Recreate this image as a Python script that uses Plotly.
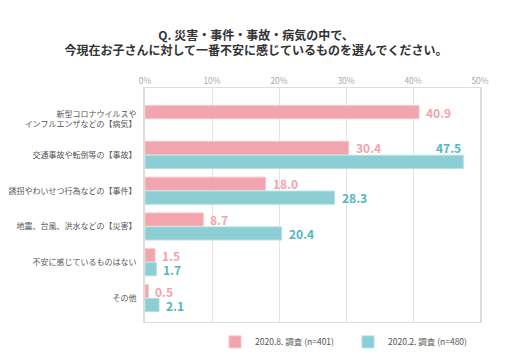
import plotly.graph_objects as go

categories = [
    "新型コロナウイルスや<br>インフルエンザなどの【病気】",
    "交通事故や転倒等の【事故】",
    "誘拐やわいせつ行為などの【事件】",
    "地震、台風、洪水などの【災害】",
    "不安に感じているものはない",
    "その他",
]
aug_2020 = [40.9, 30.4, 18.0, 8.7, 1.5, 0.5]
feb_2020 = [None, 47.5, 28.3, 20.4, 1.7, 2.1]
series_names = ["2020.8. 調査 (n=401)", "2020.2. 調査 (n=480)"]
tick_vals = [0, 10, 20, 30, 40, 50]
tick_text = ["0%", "10%", "20%", "30%", "40%", "50%"]
title_text = "Q. 災害・事件・事故・病気の中で、<br>今現在お子さんに対して一番不安に感じているものを選んでください。"

PINK = "#F2A5AC"
TEAL = "#8BCED3"
PINK_TXT = "#F4A3AA"
TEAL_TXT = "#4FB7C2"
FONT = "Noto Sans CJK JP"

# page body has a default 8px margin; figure is sized to fit inside the window
W, H = 501, 353

fig = go.Figure()
fig.add_trace(go.Bar(y=categories, x=aug_2020, name=series_names[0], orientation="h",
                     marker=dict(color=PINK, line=dict(color="#F7C4C9", width=1))))
fig.add_trace(go.Bar(y=categories, x=feb_2020, name=series_names[1], orientation="h",
                     marker=dict(color=TEAL, line=dict(color="#B3E0E3", width=1))))

annotations = []
for vals, color, shift in [(aug_2020, PINK_TXT, 7), (feb_2020, TEAL_TXT, -7)]:
    for cat, v in zip(categories, vals):
        if v is None:
            continue
        if v > 45:
            annotations.append(dict(x=v, y=cat, xref="x", yref="y", text=f"{v:.1f}",
                                    showarrow=False, xanchor="right", yanchor="middle",
                                    yshift=shift + 14, xshift=0,
                                    font=dict(family=FONT, size=12, color=color, weight="bold")))
        else:
            annotations.append(dict(x=v, y=cat, xref="x", yref="y", text=f"{v:.1f}",
                                    showarrow=False, xanchor="left", yanchor="middle",
                                    yshift=shift, xshift=5,
                                    font=dict(family=FONT, size=12, color=color, weight="bold")))

fig.update_layout(
    width=W, height=H,
    margin=dict(l=137, r=29, t=80, b=39, autoexpand=False),
    paper_bgcolor="white", plot_bgcolor="white",
    barmode="group", bargap=0.22, bargroupgap=0.06,
    font=dict(family=FONT, size=8, color="#555555"),
    title=dict(text=title_text, x=0.495, xanchor="center", y=1 - 31.5 / H, yanchor="middle",
               font=dict(family=FONT, size=12, color="#333333", weight="bold")),
    xaxis=dict(side="top", range=[0, 50], tickvals=tick_vals, ticktext=tick_text,
               showgrid=True, gridcolor="#E4E4E4", gridwidth=1,
               showline=True, linecolor="#DDDDDD", linewidth=1, mirror=True,
               zeroline=False, ticks="", ticklen=0, automargin=False,
               tickfont=dict(family=FONT, size=8.5, color="#AAAAAA")),
    yaxis=dict(type="category", range=[5.67, -0.87], showgrid=False,
               showline=True, linecolor="#DDDDDD", linewidth=2, mirror=True,
               ticks="", ticklabelstandoff=5, automargin=False,
               tickfont=dict(family=FONT, size=8, color="#555555")),
    legend=dict(orientation="h", x=0.209, xanchor="left", y=-0.085, yanchor="middle",
                font=dict(family=FONT, size=8.5, color="#555555"), entrywidth=88,
                traceorder="normal"),
    annotations=annotations,
)

fig.write_html("out.html")
